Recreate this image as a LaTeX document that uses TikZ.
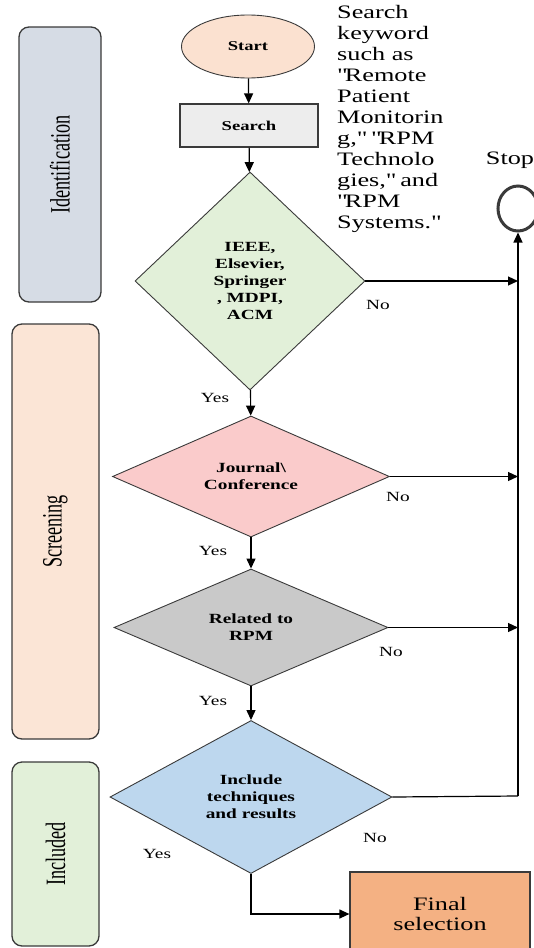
\documentclass[tikz,border=0pt]{standalone}
\usepackage{fontspec}
\setmainfont{Liberation Serif}[FakeStretch=1.38]
\newfontfamily\lanefont{Liberation Serif}[FakeStretch=0.65]
\usetikzlibrary{shapes.geometric, arrows.meta}

\definecolor{idfill}{HTML}{D6DCE5}
\definecolor{scrfill}{HTML}{FBE5D6}
\definecolor{incfill}{HTML}{E2F0D9}
\definecolor{startfill}{HTML}{FBE1D0}
\definecolor{searchfill}{HTML}{EDEDED}
\definecolor{basefill}{HTML}{E2F0D9}
\definecolor{journalfill}{HTML}{FACBCB}
\definecolor{rpmfill}{HTML}{C9C9C9}
\definecolor{includefill}{HTML}{BDD7EE}
\definecolor{finalfill}{HTML}{F4B183}
\definecolor{edge}{HTML}{3A3A3A}
\newcommand{\dq}{\textquotedbl{}}

\begin{document}
\begin{tikzpicture}[x=1pt, y=-1pt,
    lane/.style={draw=edge, line width=1.3pt, rounded corners=10pt, rotate=90,
        font=\lanefont\fontsize{28}{30}\selectfont},
    decision/.style={diamond, draw=edge, line width=0.9pt, inner sep=0pt, aspect=2,
        align=center, font=\bfseries\fontsize{14}{17}\selectfont},
    flow/.style={line width=1.2pt, -{Triangle[length=10pt,width=9pt]}},
    tag/.style={font=\fontsize{14}{16}\selectfont}]
    \useasboundingbox (0,0) rectangle (534,948);

    % phases on the left
    \node[lane, fill=idfill, minimum width=275, minimum height=82] (id) at (60,164.5) {Identification};
    \node[lane, fill=scrfill, minimum width=415, minimum height=87] (scr) at (55.5,531.5) {Screening};
    \node[lane, fill=incfill, minimum width=184, minimum height=87] (inc) at (55.5,854) {Included};

    % main column
    \node[ellipse, draw=edge, line width=0.9pt, fill=startfill, minimum width=133, minimum height=63,
        font=\bfseries\fontsize{13.5}{16}\selectfont] (start) at (248,46.5) {Start};
    \node[draw=edge, line width=1.2pt, fill=searchfill, minimum width=138, minimum height=43,
        font=\bfseries\fontsize{13.5}{16}\selectfont] (search) at (249,125.5) {Search};
    \node[decision, aspect=1, fill=basefill, minimum width=230, minimum height=218] (dbase) at (250,281)
        {IEEE,\\ Elsevier,\\ Springer\\ , MDPI,\\ ACM};
    \node[decision, fill=journalfill, minimum width=277, minimum height=121] (djournal) at (251,476.5)
        {Journal\textbackslash\\ Conference};
    \node[decision, fill=rpmfill, minimum width=274, minimum height=117] (drpm) at (251,627.5)
        {Related to\\ RPM};
    \node[decision, fill=includefill, minimum width=282, minimum height=153] (dinclude) at (251,797)
        {Include\\ techniques\\ and results};
    \node[draw=edge, line width=1.2pt, fill=finalfill, minimum width=180, minimum height=84,
        align=center, font=\fontsize{19}{20}\selectfont] (final) at (440,914) {Final\\ selection};

    % stop and keywords
    \node[ellipse, draw=edge, line width=3pt, minimum width=40, minimum height=45] (stop) at (518,208.5) {};
    \node[font=\fontsize{19}{21}\selectfont] (stoplbl) at (510,160) {Stop};
    \node[anchor=north west, align=left, inner sep=0pt, font=\fontsize{19}{21}\selectfont] (keyword) at (337,5)
        {Search\\ keyword\\ such as\\ \dq Remote\\ Patient\\ Monitorin\\ g,\dq\ \dq RPM\\ Technolo\\
         gies,\dq\ and\\ \dq RPM\\ Systems.\dq};
    \coordinate (rail) at (518,796);

    % connectors
    \draw[flow] (start) -- (search);
    \draw[flow] (search) -- (dbase);
    \draw[flow] (dbase) -- (djournal);
    \draw[flow] (djournal) -- (drpm);
    \draw[flow] (drpm) -- (dinclude);
    \draw[flow] (dinclude.south) |- (final.west);
    \draw[flow] (dbase.east) -- (dbase.east -| rail);
    \draw[flow] (djournal.east) -- (djournal.east -| rail);
    \draw[flow] (drpm.east) -- (drpm.east -| rail);
    \draw[line width=1.2pt] (dinclude.east) -- (rail);
    \draw[flow] (rail) -- (stop.south);

    % labels
    \node[tag] (yes1) at (215,398) {Yes};
    \node[tag] (yes2) at (213,551) {Yes};
    \node[tag] (yes3) at (213,701) {Yes};
    \node[tag] (yes4) at (157,854) {Yes};
    \node[tag] (no1) at (378,305) {No};
    \node[tag] (no2) at (398,497) {No};
    \node[tag] (no3) at (391,652) {No};
    \node[tag] (no4) at (375,838) {No};
\end{tikzpicture}
\end{document}
